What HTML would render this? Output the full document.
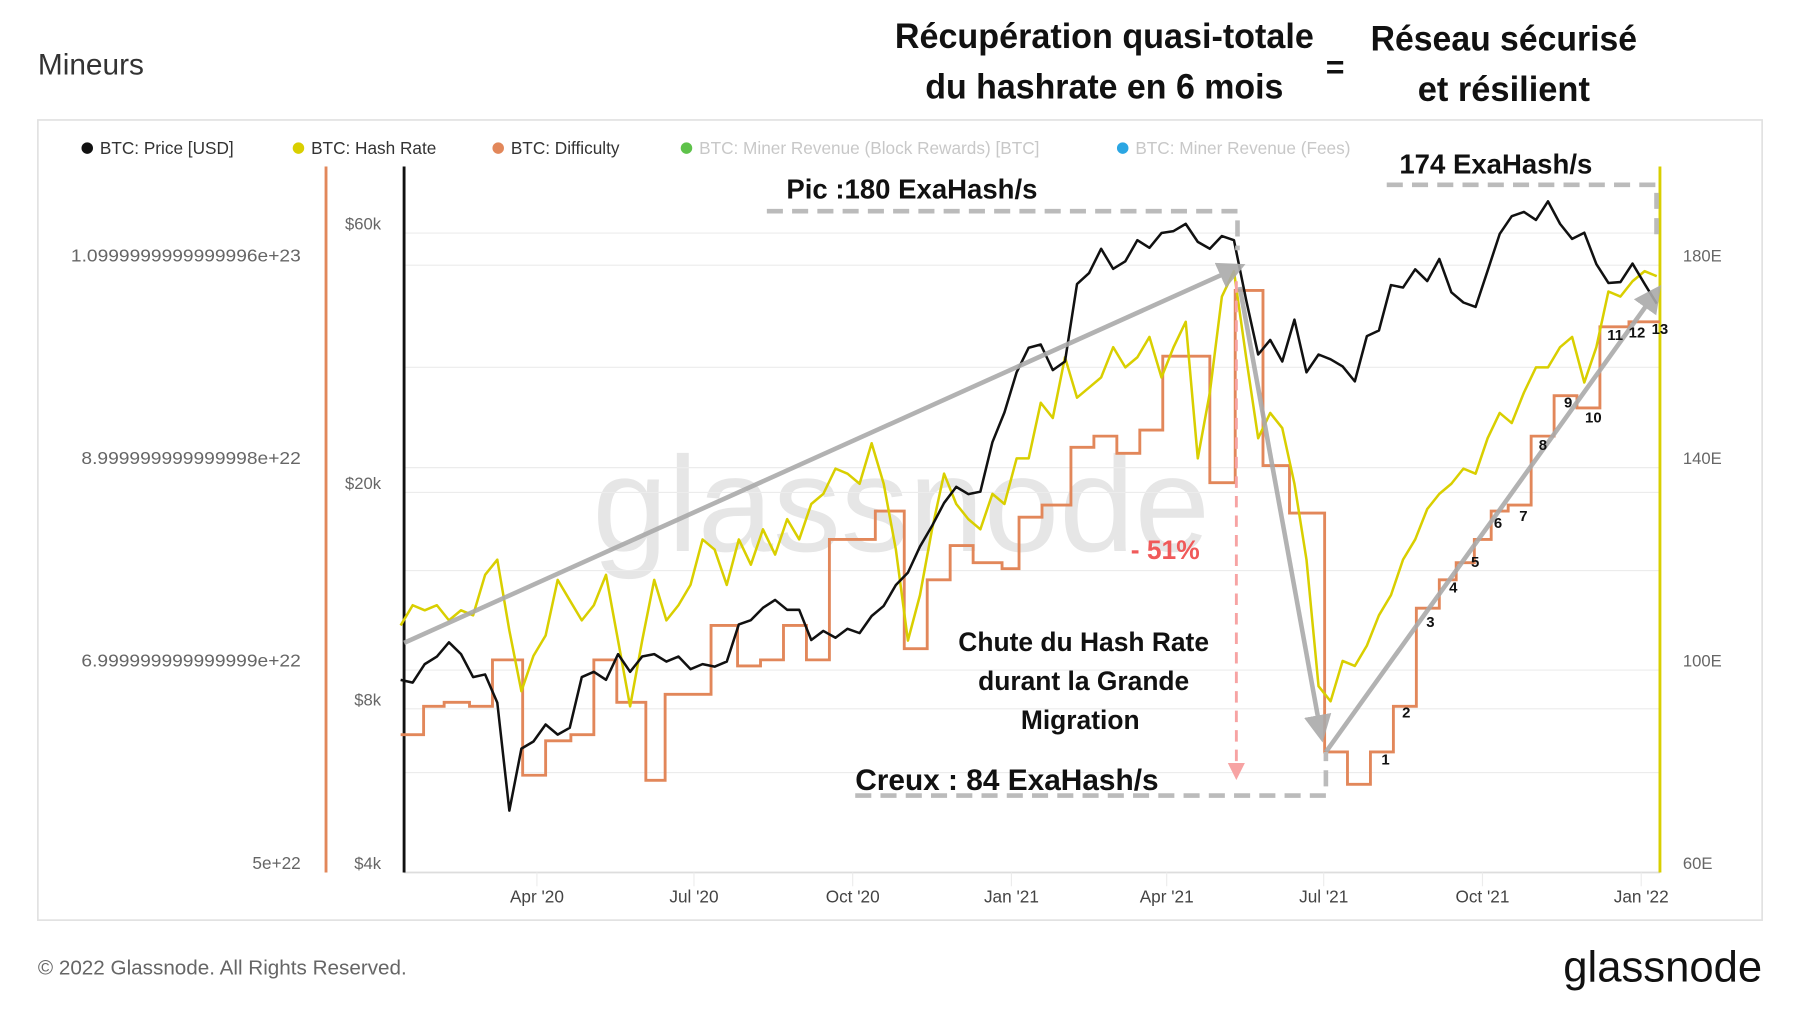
<!DOCTYPE html>
<html><head><meta charset="utf-8"><style>
html,body{margin:0;padding:0;background:#fff;width:1800px;height:1013px;overflow:hidden}
svg{display:block}
text{font-family:"Liberation Sans",sans-serif}
.t{font-family:"Liberation Sans Narrow","Liberation Sans",sans-serif;font-weight:bold;fill:#111}
</style></head><body>
<svg id="c" width="1800" height="1013" viewBox="0 0 1568 882.4" preserveAspectRatio="none" xmlns="http://www.w3.org/2000/svg">
<text x="33" y="65" font-size="26" fill="#333">Mineurs</text>
<g>
<text class="t" x="962" y="42" font-size="31" text-anchor="middle" textLength="365" lengthAdjust="spacingAndGlyphs">Récupération quasi-totale</text>
<text class="t" x="962" y="86" font-size="31" text-anchor="middle" textLength="312" lengthAdjust="spacingAndGlyphs">du hashrate en 6 mois</text>
<text class="t" x="1163" y="68" font-size="28" text-anchor="middle">=</text>
<text class="t" x="1310" y="44" font-size="31" text-anchor="middle" textLength="232" lengthAdjust="spacingAndGlyphs">Réseau sécurisé</text>
<text class="t" x="1310" y="88" font-size="31" text-anchor="middle" textLength="150" lengthAdjust="spacingAndGlyphs">et résilient</text>
</g>
<rect x="33" y="104.5" width="1502" height="697" fill="none" stroke="#e2e2e2" stroke-width="1.5"/>
<g font-size="15">
<g><circle cx="76" cy="129" r="5" fill="#111"/><text x="87" y="134" fill="#333">BTC: Price [USD]</text></g>
<g><circle cx="260" cy="129" r="5" fill="#d9cf00"/><text x="271" y="134" fill="#333">BTC: Hash Rate</text></g>
<g><circle cx="434" cy="129" r="5" fill="#e2875a"/><text x="445" y="134" fill="#333">BTC: Difficulty</text></g>
<g><circle cx="598" cy="129" r="5" fill="#5ec24a"/><text x="609" y="134" fill="#c8c8c8">BTC: Miner Revenue (Block Rewards) [BTC]</text></g>
<g><circle cx="978" cy="129" r="5" fill="#2ba6e3"/><text x="989" y="134" fill="#c8c8c8">BTC: Miner Revenue (Fees)</text></g>
</g>
<text x="785" y="480" font-size="118" fill="#e6e6e6" text-anchor="middle">glassnode</text>
<g id="grid"></g>
<g id="axes"></g>
<g id="series"></g>
<g id="ann"></g>
<text x="33" y="849" font-size="18" fill="#666">© 2022 Glassnode. All Rights Reserved.</text>
<text x="1535" y="855" font-size="38" fill="#111" text-anchor="end">glassnode</text>
</svg>
<script>
// ---- data (weekly from 2020-01-13) ----
const priceUSD = [8700,8600,9300,9600,10200,9700,8800,8900,7900,5000,6500,6700,7200,6900,7100,8800,9000,8700,9700,9000,9600,9700,9400,9600,9100,9300,9200,9400,11000,11200,11800,12200,11700,11700,10300,10700,10400,10800,10600,11400,11900,13000,13700,15300,16700,18400,19700,19100,19300,23800,27000,32000,35500,36000,32300,33500,46500,48700,54000,49600,51200,56000,54200,57700,58200,60000,55600,54000,57000,56000,43500,34500,36700,33500,40000,32000,34500,33800,32800,30800,37300,38200,46300,45800,49500,47100,51700,44900,43000,42200,49200,57500,62000,63100,61000,66000,60000,56300,57800,50600,46700,46900,50700,46500,42800];
const hashRateEH = [107,111,110,111,108,110,109,117,120,106,94,101,105,116,112,108,111,117,104,91,104,116,108,111,115,124,122,115,124,119,126,121,128,124,131,133,138,137,135,143,135,122,104,113,126,137,131,128,126,133,131,140,140,151,148,160,152,154,156,162,158,160,164,156,162,167,140,153,172,177,160,144,149,146,135,120,95,92,100,99,103,109,113,120,124,130,133,135,138,137,144,149,147,153,158,158,162,164,155,162,173,172,175,177,176];
const diffStartWeek = [0,1.9,3.6,5.7,7.6,10.1,12,14.1,16,17.9,20.3,21.9,25.7,27.9,29.8,31.7,33.6,35.5,39.3,41.7,43.6,45.5,47.4,49.8,51.2,53.1,55.5,57.4,59.3,61.2,63.1,65,67,69.1,71.4,73.6,76.5,78.4,80.3,82.2,84.1,86,87.4,88.9,90.3,91.7,93.6,95.5,97.4,99.3,101.7];
const difficulty = [6.27e22,6.55e22,6.59e22,6.55e22,7.01e22,5.87e22,6.21e22,6.27e22,7.01e22,6.59e22,5.82e22,6.67e22,7.35e22,6.95e22,7.01e22,7.35e22,7.01e22,8.2e22,8.48e22,7.12e22,7.8e22,8.14e22,7.97e22,7.91e22,8.42e22,8.54e22,9.11e22,9.22e22,9.05e22,9.28e22,10.01e22,10.01e22,8.76e22,10.66e22,8.93e22,8.46e22,6.1e22,5.78e22,6.1e22,6.55e22,7.52e22,7.8e22,7.97e22,8.2e22,8.48e22,8.54e22,9.22e22,9.62e22,9.5e22,10.3e22,10.35e22];
const xTickLabels = ["Apr '20","Jul '20","Oct '20","Jan '21","Apr '21","Jul '21","Oct '21","Jan '22"];
const xTickDays = [79,170,262,354,444,535,627,719];
const priceTicks = [4000,8000,20000,60000];
const priceTickLabels = ["$4k","$8k","$20k","$60k"];
const hashTicks = [60,100,140,180];
const hashTickLabels = ["60E","100E","140E","180E"];
const diffTicks = [5e22,7e22,9e22,1.1e23];
const diffTickLabels = ["5e+22","6.999999999999999e+22","8.999999999999998e+22","1.0999999999999996e+23"];

// ---- scales ----
const NS="http://www.w3.org/2000/svg";
const xDay = d => 349 + d*1.503;
const xWeek = w => xDay(w*7);
const yPrice = v => 752 - (Math.log(v/4000)/Math.log(15))*557;
const yHash = v => 752 - (v-60)*(529/120);
const yDiff = v => 752 - (v-5e22)*(529/6e22);
function el(tag, attrs, parent, txt){const e=document.createElementNS(NS,tag);for(const k in attrs)e.setAttribute(k,attrs[k]);if(txt!==undefined)e.textContent=txt;parent.appendChild(e);return e;}
const grid=document.getElementById('grid'), axes=document.getElementById('axes'), series=document.getElementById('series'), ann=document.getElementById('ann');

hashTicks.forEach(t=>{const g=el('line',{x1:352,x2:1446,y1:yHash(t)+8,y2:yHash(t)+8,stroke:'#ececec','stroke-width':1},grid);

});
priceTicks.forEach(t=>{const g=el('line',{x1:352,x2:1446,y1:yPrice(t)+8,y2:yPrice(t)+8,stroke:'#ececec','stroke-width':1},grid);

});
[320,497,673].forEach(y=>{const g=el('line',{x1:352,x2:1446,y1:y,y2:y,stroke:'#ececec','stroke-width':1},grid);

});
el('line',{x1:352,x2:1446,y1:760,y2:760,stroke:'#ddd','stroke-width':1.5},axes);

const al=el('line',{x1:284,x2:284,y1:145,y2:760,stroke:'#e2875a','stroke-width':2.5},axes);


const pl=el('line',{x1:352,x2:352,y1:145,y2:760,stroke:'#111','stroke-width':2.5},axes);


const hl=el('line',{x1:1446,x2:1446,y1:145,y2:760,stroke:'#d9cf00','stroke-width':2.5},axes);



diffTicks.forEach((t,i)=>{const a={x:262,y:yDiff(t)+5,'font-size':15,fill:'#666','text-anchor':'end'};
if(diffTickLabels[i].length>10){a.textLength=diffTickLabels[i].length*9.1;a.lengthAdjust='spacingAndGlyphs';}
const e=el('text',a,axes,diffTickLabels[i]);

});
priceTicks.forEach((t,i)=>{const e=el('text',{x:332,y:yPrice(t)+5,'font-size':14.5,fill:'#666','text-anchor':'end'},axes,priceTickLabels[i]);

});
hashTicks.forEach((t,i)=>{const e=el('text',{x:1466,y:yHash(t)+5,'font-size':14.5,fill:'#666'},axes,hashTickLabels[i]);

});
xTickDays.forEach((d,i)=>{const x=xDay(d);
el('line',{x1:x,x2:x,y1:760,y2:772,stroke:'#ececec'},axes);
const e=el('text',{x:x,y:786,'font-size':15,fill:'#444','text-anchor':'middle'},axes,xTickLabels[i]);

});

let dp='';difficulty.forEach((v,i)=>{const x0=xWeek(diffStartWeek[i]);const x1=i+1<difficulty.length?xWeek(diffStartWeek[i+1]):1446;const y=yDiff(v);dp+=(i?'L':'M')+x0.toFixed(1)+','+y.toFixed(1)+'L'+x1.toFixed(1)+','+y.toFixed(1);});
const ds=el('path',{d:dp,fill:'none',stroke:'#e2875a','stroke-width':2.5},series);


const hs=el('path',{d:hashRateEH.map((v,i)=>(i?'L':'M')+xWeek(i).toFixed(1)+','+yHash(v).toFixed(1)).join(''),fill:'none',stroke:'#d9cf00','stroke-width':2.2,'stroke-linejoin':'round'},series);


const ps=el('path',{d:priceUSD.map((v,i)=>(i?'L':'M')+xWeek(i).toFixed(1)+','+yPrice(v).toFixed(1)).join(''),fill:'none',stroke:'#111','stroke-width':2.2,'stroke-linejoin':'round'},series);



const defs=el('defs',{},ann);
const mk=el('marker',{id:'ah',markerWidth:6,markerHeight:6,refX:3,refY:3,orient:'auto',markerUnits:'strokeWidth'},defs);
el('path',{d:'M0,0L6,3L0,6z',fill:'#aaa'},mk);
const mk2=el('marker',{id:'ah2',markerWidth:6,markerHeight:6,refX:3,refY:3,orient:'auto',markerUnits:'strokeWidth'},defs);
el('path',{d:'M0,0L6,3L0,6z',fill:'#f7a3a3'},mk2);
const arrows=[[352,560,1074,235],[1080,250,1150,635],[1155,655,1440,258]];
arrows.forEach(a=>{const e=el('line',{x1:a[0],y1:a[1],x2:a[2],y2:a[3],stroke:'#aaa','stroke-width':4,'marker-end':'url(#ah)',opacity:0.9},ann);

});
const dash={fill:'none',stroke:'#bbb','stroke-width':4,'stroke-dasharray':'14,8'};
[['M668,184L1078,184L1078,218','peak-bracket'],['M1208,161L1443,161L1443,205','recovery-bracket'],['M745,693L1155,693L1155,655','trough-bracket']].forEach(p=>{const e=el('path',Object.assign({d:p[0]},dash),ann);

});
const pk=el('line',{x1:1077,x2:1077,y1:245,y2:672,stroke:'#f7a3a3','stroke-width':2.5,'stroke-dasharray':'10,7','marker-end':'url(#ah2)'},ann);


function lbl(x,y,s,t,name,anchor,col){const e=el('text',{x:x,y:y,'font-size':s,class:'t','text-anchor':anchor||'start',fill:col||'#111'},ann,t);

return e;}
lbl(685,173,24,'Pic :180 ExaHash/s','peak-label');
lbl(1219,151,24,'174 ExaHash/s','recovery-label');
lbl(985,487,23,'- 51%','drop-percent','start','#f05a5a').style.fill='#f05a5a';
lbl(944,567,23,'Chute du Hash Rate','drop-caption-1','middle');
lbl(944,601,23,'durant la Grande','drop-caption-2','middle');
lbl(941,635,23,'Migration','drop-caption-3','middle');
lbl(745,688,26,'Creux : 84 ExaHash/s','trough-label');
const steps=[['1',1207,666],['2',1225,625],['3',1246,546],['4',1266,516],['5',1285,494],['6',1305,460],['7',1327,454],['8',1344,392],['9',1366,355],['10',1388,368],['11',1407,296],['12',1426,294],['13',1446,291]];
steps.forEach(s=>lbl(s[1],s[2],13,s[0],'difficulty-step-'+s[0],'middle'));
</script>
</body></html>
